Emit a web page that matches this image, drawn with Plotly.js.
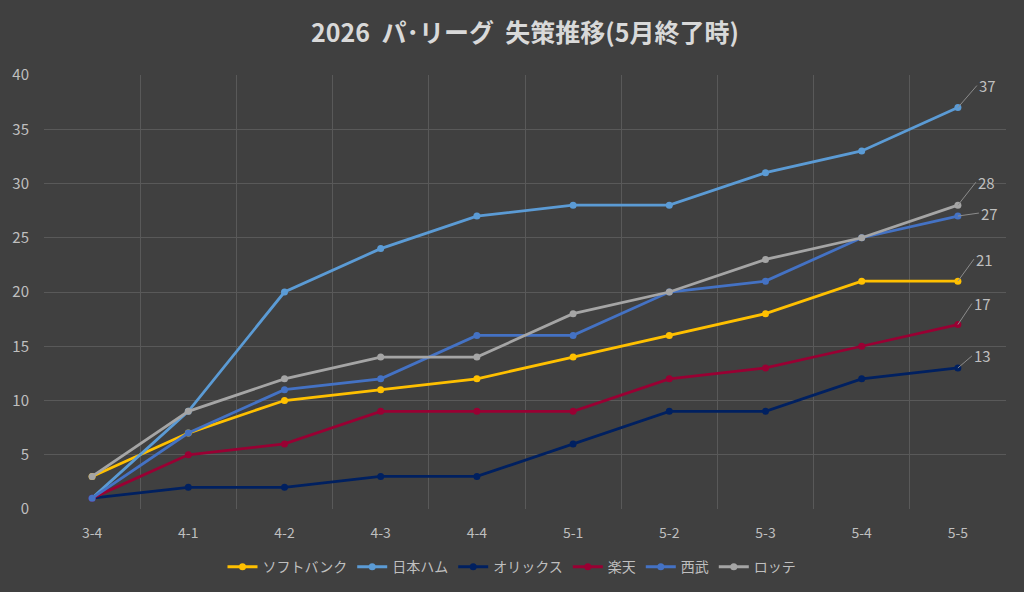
<!DOCTYPE html>
<html>
<head>
<meta charset="utf-8">
<script src="https://cdn.plot.ly/plotly-3.0.1.min.js"></script>
<style>
  html, body { margin: 0; padding: 0; background: #404040; }
  #chart { width: 1024px; height: 592px; }
</style>
</head>
<body>
<div id="chart"></div>
<script>
// 節 (月-節)
const rounds = ['3-4', '4-1', '4-2', '4-3', '4-4', '5-1', '5-2', '5-3', '5-4', '5-5'];

// 各球団の累計失策数
const softbank = [3, 7, 10, 11, 12, 14, 16, 18, 21, 21];
const nipponham = [1, 9, 20, 24, 27, 28, 28, 31, 33, 37];
const orix = [1, 2, 2, 3, 3, 6, 9, 9, 12, 13];
const rakuten = [1, 5, 6, 9, 9, 9, 12, 13, 15, 17];
const seibu = [1, 7, 11, 12, 16, 16, 20, 21, 25, 27];
const lotte = [3, 9, 12, 14, 14, 18, 20, 23, 25, 28];

const teamNames = ['ソフトバンク', '日本ハム', 'オリックス', '楽天', '西武', 'ロッテ'];
const teamData = [softbank, nipponham, orix, rakuten, seibu, lotte];
const teamColors = ['#FFC000', '#5B9BD5', '#002060', '#990033', '#4472C4', '#A5A5A5'];

const font = '"Noto Sans CJK JP", "Noto Sans", sans-serif';

const traces = teamNames.map((name, i) => ({
    x: rounds,
    y: teamData[i],
    name: name,
    type: 'scatter',
    mode: 'lines+markers',
    line: { color: teamColors[i], width: 2.8 },
    marker: { color: teamColors[i], size: 7 }
}));

// 最終節の値ラベル (引き出し線つき)
const labelOffsets = [[16, -22], [19, -22], [14, -12], [14, -21], [21, -3], [18, -23]];
const annotations = teamData.map((vals, i) => {
    const last = vals.length - 1;
    return {
        x: rounds[last],
        y: vals[last],
        text: String(vals[last]),
        showarrow: true,
        arrowhead: 0,
        arrowwidth: 1,
        arrowcolor: '#8C8C8C',
        ax: labelOffsets[i][0],
        ay: labelOffsets[i][1],
        xanchor: 'left',
        font: { family: font, size: 15, color: '#BFBFBF' }
    };
});

const layout = {
    width: 1024,
    height: 592,
    paper_bgcolor: '#404040',
    plot_bgcolor: '#404040',
    font: { family: font, color: '#BFBFBF', size: 14 },
    margin: { l: 44, r: 18, t: 75, b: 83 },
    title: {
        text: '2026\u00a0\u00a0パ･リーグ\u00a0\u00a0失策推移(5月終了時)',
        font: { family: font, size: 25, color: '#D9D9D9', weight: 'bold' },
        x: 0.5,
        xref: 'paper',
        y: 0.943,
        yanchor: 'middle'
    },
    xaxis: {
        type: 'category',
        range: [-0.5, 9.5],
        tickson: 'boundaries',
        showgrid: true,
        gridcolor: '#595959',
        gridwidth: 1,
        showline: false,
        zeroline: false,
        ticks: '',
        ticklabelstandoff: 14,
        tickfont: { size: 14, color: '#BFBFBF' }
    },
    yaxis: {
        range: [0, 40],
        dtick: 5,
        showgrid: true,
        gridcolor: '#595959',
        gridwidth: 1,
        zeroline: false,
        showline: false,
        ticks: '',
        ticklabelstandoff: 14,
        tickfont: { size: 15, color: '#BFBFBF' }
    },
    legend: {
        orientation: 'h',
        x: 0.5,
        xref: 'container',
        xanchor: 'center',
        y: 0.042,
        yref: 'container',
        yanchor: 'middle',
        font: { size: 14, color: '#BFBFBF' },
        itemwidth: 30
    },
    annotations: annotations,
    hovermode: false
};

Plotly.newPlot('chart', traces, layout, { displayModeBar: false, staticPlot: true });
</script>
</body>
</html>
